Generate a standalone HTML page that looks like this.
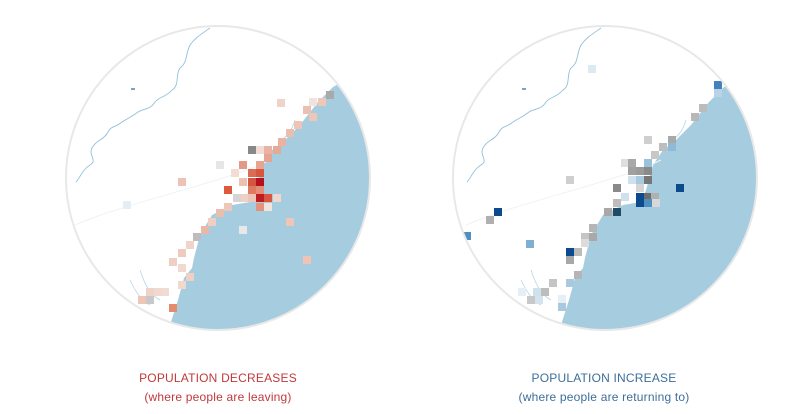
<!DOCTYPE html>
<html><head><meta charset="utf-8"><style>
html,body{margin:0;padding:0;background:#fff;}
body{width:804px;height:414px;overflow:hidden;font-family:"Liberation Sans",sans-serif;}
.t{position:absolute;width:300px;text-align:center;font-size:12px;line-height:19px;letter-spacing:0.2px}
</style></head><body>
<svg width="804" height="414" style="position:absolute;left:0;top:0">
<defs>
<clipPath id="c1"><circle cx="218" cy="178" r="152"/></clipPath>
<clipPath id="c2"><circle cx="605" cy="178" r="152"/></clipPath>
<g id="base">
<path d="M333,87 L318,102 L300,125 L285,140 L272,150 L262,165 L255,190 L250,202 L232,205 L212,215 L200,235 L194,258 L192,268 L184,278 L178,300 L170,325 L176,345 L420,345 L420,40 Z" fill="#a6cddf"/>
<path d="M210,28 C200,35 195,38 190,45 C185,55 188,62 180,68 C175,75 180,85 172,90 C165,98 160,96 155,102 C150,110 145,108 138,112 C130,118 128,118 122,122 C115,128 112,125 108,132 C104,140 96,140 92,148 C88,156 98,160 90,165 C82,170 80,178 76,182" fill="none" stroke="#93c0da" stroke-width="0.9"/>
<path d="M75,225 C110,210 150,200 200,185 C230,176 250,170 270,160" fill="none" stroke="#eef3f6" stroke-width="1"/>
<path d="M140,270 C145,285 150,295 160,300 M130,280 C135,290 140,300 150,305 M295,120 C292,130 288,135 282,140" fill="none" stroke="#b5d6e7" stroke-width="0.8"/>
<rect x="131" y="88" width="4" height="2" fill="#6ea9cc"/>
</g>
</defs>
<g clip-path="url(#c1)"><use href="#base"/>
<g>
<rect x="277" y="99" width="8" height="8" fill="#efd3c8"/>
<rect x="326" y="91" width="8" height="8" fill="#a9a9a9"/>
<rect x="309" y="98" width="8" height="8" fill="#f2e2dc"/>
<rect x="318" y="98" width="8" height="8" fill="#eec7b9"/>
<rect x="303" y="106" width="8" height="8" fill="#ecc0b1"/>
<rect x="309" y="113" width="8" height="8" fill="#eec6b8"/>
<rect x="294" y="121" width="8" height="8" fill="#edc4b6"/>
<rect x="286" y="129" width="8" height="8" fill="#ebbdac"/>
<rect x="278" y="138" width="8" height="8" fill="#e8b3a2"/>
<rect x="248" y="146" width="8" height="8" fill="#888"/>
<rect x="256" y="146" width="8" height="8" fill="#f1dcd4"/>
<rect x="264" y="146" width="8" height="8" fill="#e8b3a2"/>
<rect x="273" y="146" width="8" height="8" fill="#e6a996"/>
<rect x="264" y="154" width="8" height="8" fill="#e5a592"/>
<rect x="216" y="161" width="8" height="8" fill="#e6e6e6"/>
<rect x="239" y="161" width="8" height="8" fill="#e29a86"/>
<rect x="256" y="161" width="8" height="8" fill="#e5a592"/>
<rect x="231" y="169" width="8" height="8" fill="#f2dcd4"/>
<rect x="248" y="169" width="8" height="8" fill="#dc6b55"/>
<rect x="256" y="169" width="8" height="8" fill="#d8563f"/>
<rect x="178" y="178" width="8" height="8" fill="#eec3b5"/>
<rect x="239" y="178" width="8" height="8" fill="#edc0b1"/>
<rect x="248" y="178" width="8" height="8" fill="#d55640"/>
<rect x="256" y="178" width="8" height="8" fill="#b3111b"/>
<rect x="224" y="186" width="8" height="8" fill="#dd5a3e"/>
<rect x="248" y="186" width="8" height="8" fill="#df7a62"/>
<rect x="256" y="186" width="8" height="8" fill="#e38f78"/>
<rect x="233" y="194" width="8" height="8" fill="#d5d5d5"/>
<rect x="241" y="194" width="8" height="8" fill="#efd0c5"/>
<rect x="248" y="194" width="8" height="8" fill="#edc4b6"/>
<rect x="256" y="194" width="8" height="8" fill="#bc1d22"/>
<rect x="264" y="194" width="8" height="8" fill="#d9553f"/>
<rect x="273" y="194" width="8" height="8" fill="#f0d7ce"/>
<rect x="256" y="203" width="8" height="8" fill="#e3937c"/>
<rect x="264" y="203" width="8" height="8" fill="#f3e3dd"/>
<rect x="224" y="203" width="8" height="8" fill="#eec7b9"/>
<rect x="216" y="209" width="8" height="8" fill="#ebbdac"/>
<rect x="208" y="218" width="8" height="8" fill="#efcfc3"/>
<rect x="201" y="226" width="8" height="8" fill="#eab8a7"/>
<rect x="193" y="233" width="8" height="8" fill="#bdbdbd"/>
<rect x="286" y="218" width="8" height="8" fill="#edc6b8"/>
<rect x="239" y="226" width="8" height="8" fill="#e8e8e8"/>
<rect x="186" y="241" width="8" height="8" fill="#f0d4c9"/>
<rect x="178" y="249" width="8" height="8" fill="#eecbbe"/>
<rect x="169" y="258" width="8" height="8" fill="#efcfc3"/>
<rect x="303" y="256" width="8" height="8" fill="#edc4b6"/>
<rect x="178" y="264" width="8" height="8" fill="#f1d9d0"/>
<rect x="186" y="273" width="8" height="8" fill="#efd0c4"/>
<rect x="178" y="281" width="8" height="8" fill="#f1d8cf"/>
<rect x="161" y="288" width="8" height="8" fill="#f1dcd4"/>
<rect x="154" y="288" width="8" height="8" fill="#f1d9d0"/>
<rect x="146" y="288" width="8" height="8" fill="#efd3c8"/>
<rect x="138" y="296" width="8" height="8" fill="#edc6b8"/>
<rect x="146" y="296" width="8" height="8" fill="#c8c8c8"/>
<rect x="169" y="304" width="8" height="8" fill="#e58a6d"/>
<rect x="123" y="201" width="8" height="8" fill="#e4eef4"/>
</g></g>
<circle cx="218" cy="178" r="152" fill="none" stroke="#e8e8e8" stroke-width="2"/>

<g clip-path="url(#c2)"><g transform="translate(391,0)"><use href="#base"/></g>
<g>
<rect x="714" y="81" width="8" height="8" fill="#4582bd"/>
<rect x="714" y="89" width="8" height="8" fill="#b9d3e6"/>
<rect x="699" y="104" width="8" height="8" fill="#bcbcbc"/>
<rect x="691" y="113" width="8" height="8" fill="#b8b8b8"/>
<rect x="588" y="65" width="8" height="8" fill="#deeaf2"/>
<rect x="644" y="136" width="8" height="8" fill="#cfcfcf"/>
<rect x="668" y="136" width="8" height="8" fill="#a9a9a9"/>
<rect x="659" y="143" width="8" height="8" fill="#bdbdbd"/>
<rect x="668" y="143" width="8" height="8" fill="#8fbad5"/>
<rect x="651" y="151" width="8" height="8" fill="#c7c7c7"/>
<rect x="621" y="159" width="8" height="8" fill="#dedede"/>
<rect x="628" y="159" width="8" height="8" fill="#a8a8a8"/>
<rect x="644" y="159" width="8" height="8" fill="#9cc1da"/>
<rect x="628" y="167" width="8" height="8" fill="#a0a0a0"/>
<rect x="636" y="167" width="8" height="8" fill="#9a9a9a"/>
<rect x="644" y="167" width="8" height="8" fill="#8a8a8a"/>
<rect x="628" y="176" width="8" height="8" fill="#cfe1ec"/>
<rect x="636" y="176" width="8" height="8" fill="#a9c9de"/>
<rect x="644" y="176" width="8" height="8" fill="#777"/>
<rect x="566" y="176" width="8" height="8" fill="#cfcfcf"/>
<rect x="613" y="184" width="8" height="8" fill="#8a8a8a"/>
<rect x="636" y="184" width="8" height="8" fill="#d5d5d5"/>
<rect x="676" y="184" width="8" height="8" fill="#0b4a8c"/>
<rect x="636" y="193" width="8" height="8" fill="#0b4a8c"/>
<rect x="644" y="193" width="8" height="8" fill="#6d6d6d"/>
<rect x="651" y="193" width="8" height="8" fill="#b0b0b0"/>
<rect x="621" y="193" width="8" height="8" fill="#cfe1ec"/>
<rect x="613" y="199" width="8" height="8" fill="#bdbdbd"/>
<rect x="636" y="199" width="8" height="8" fill="#0b4a8c"/>
<rect x="644" y="199" width="8" height="8" fill="#4f8fc0"/>
<rect x="652" y="199" width="8" height="8" fill="#d8d8d8"/>
<rect x="494" y="208" width="8" height="8" fill="#0b4a8c"/>
<rect x="604" y="208" width="8" height="8" fill="#a8a8a8"/>
<rect x="613" y="208" width="8" height="8" fill="#204a66"/>
<rect x="486" y="216" width="8" height="8" fill="#b0b0b0"/>
<rect x="589" y="224" width="8" height="8" fill="#b5b5b5"/>
<rect x="581" y="233" width="8" height="8" fill="#c5c5c5"/>
<rect x="589" y="233" width="8" height="8" fill="#a9a9a9"/>
<rect x="581" y="239" width="8" height="8" fill="#dcdcdc"/>
<rect x="463" y="232" width="8" height="8" fill="#4f8fc0"/>
<rect x="526" y="240" width="8" height="8" fill="#7fb0d2"/>
<rect x="566" y="248" width="8" height="8" fill="#0b4a8c"/>
<rect x="574" y="248" width="8" height="8" fill="#bcbcbc"/>
<rect x="566" y="256" width="8" height="8" fill="#a8a8a8"/>
<rect x="574" y="271" width="8" height="8" fill="#b5b5b5"/>
<rect x="566" y="279" width="8" height="8" fill="#a9c9de"/>
<rect x="549" y="279" width="8" height="8" fill="#c5c5c5"/>
<rect x="541" y="288" width="8" height="8" fill="#bdbdbd"/>
<rect x="533" y="288" width="8" height="8" fill="#cfe1ec"/>
<rect x="518" y="288" width="8" height="8" fill="#e6eff5"/>
<rect x="527" y="296" width="8" height="8" fill="#c8c8c8"/>
<rect x="535" y="296" width="8" height="8" fill="#d4e4ef"/>
<rect x="558" y="303" width="8" height="8" fill="#a9c9de"/>
<rect x="558" y="295" width="8" height="8" fill="#e6eff5"/>
</g></g>
<circle cx="605" cy="178" r="152" fill="none" stroke="#e8e8e8" stroke-width="2"/>
</svg>
<div class="t" style="left:68px;top:369px;color:#c0393b">POPULATION DECREASES<br>(where people are leaving)</div>
<div class="t" style="left:454px;top:369px;color:#3c6e9c">POPULATION INCREASE<br>(where people are returning to)</div>
</body></html>
